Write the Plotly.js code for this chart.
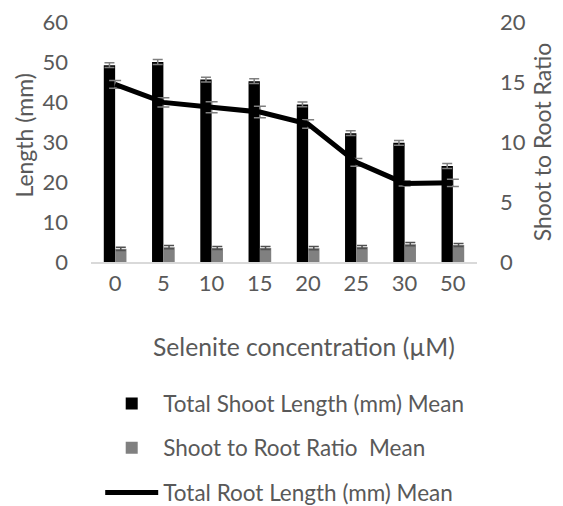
<!DOCTYPE html>
<html><head><meta charset="utf-8">
<script src="https://cdn.plot.ly/plotly-3.0.1.min.js"></script>
<style>body{margin:0;padding:0;background:#fff}#chart{width:563px;height:506px}</style>
</head><body><div id="chart"></div>
<script>
const categories = ["0","5","10","15","20","25","30","50"];
const shootLength = [49.2, 50.0, 45.6, 45.2, 39.4, 32.2, 29.8, 24.0];
const shootLengthErr = [0.6, 0.6, 0.6, 0.6, 0.6, 0.6, 0.6, 0.6];
const ratio = [3.3, 3.7, 3.5, 3.5, 3.45, 3.75, 4.45, 4.25];
const ratioErr = [0.4, 0.4, 0.4, 0.4, 0.4, 0.4, 0.4, 0.4];
const rootLength = [14.8, 13.3, 12.9, 12.5, 11.5, 8.3, 6.55, 6.6];
const rootLengthErr = [0.32, 0.39, 0.46, 0.48, 0.35, 0.32, 0.22, 0.3];
const xTitle = "Selenite concentration (µM)";
const yTitle = "Length (mm)";
const y2Title = "Shoot to Root Ratio";

const FONT = "Lato, 'Open Sans', sans-serif";
const TXT = "#595959";

const traces = [
  {type:"bar", x:categories, y:shootLength, name:"Total Shoot Length (mm) Mean",
   marker:{color:"#000000"}, yaxis:"y", legend:"legend",
   error_y:{type:"data", array:shootLengthErr, visible:true, color:"#7f7f7f", thickness:1.5, width:5}},
  {type:"bar", x:categories, y:ratio, name:"Shoot to Root Ratio  Mean",
   marker:{color:"#808080"}, yaxis:"y", legend:"legend2",
   error_y:{type:"data", array:ratioErr, visible:true, color:"#505050", thickness:1.5, width:5}},
  {type:"scatter", mode:"lines", x:categories, y:rootLength, name:"Total Root Length (mm) Mean",
   line:{color:"#000000", width:5}, yaxis:"y2", legend:"legend3",
   error_y:{type:"data", array:rootLengthErr, visible:true, color:"#7f7f7f", thickness:1.5, width:6}}
];

const legendBase = {orientation:"v", xref:"container", yref:"container", xanchor:"left", yanchor:"middle",
  bgcolor:"rgba(0,0,0,0)", font:{family:FONT, size:22.5, color:TXT}, itemwidth:53};

const layout = {
  width:563, height:506,
  margin:{l:91, r:86, t:22, b:244, autoexpand:false},
  paper_bgcolor:"#ffffff", plot_bgcolor:"#ffffff",
  font:{family:FONT, color:TXT, size:22},
  barmode:"group", bargap:0.53, bargroupgap:0,
  xaxis:{type:"category", showgrid:false, zeroline:false, showline:true, linecolor:"#d9d9d9", linewidth:1.5,
    ticks:"", tickfont:{size:22, color:TXT, family:FONT}, ticklabelstandoff:1},
  yaxis:{range:[0,60], dtick:10, showgrid:false, zeroline:false, showline:false, ticks:"",
    tickfont:{size:22, color:TXT, family:FONT}, ticklabelstandoff:22},
  yaxis2:{range:[0,20], dtick:5, overlaying:"y", side:"right", showgrid:false, zeroline:false, showline:false, ticks:"",
    tickfont:{size:22, color:TXT, family:FONT}, ticklabelstandoff:22,
    title:{text:y2Title, font:{size:23, color:TXT, family:FONT}}},
  annotations:[
    {text:xTitle, xref:"paper", yref:"paper", x:0.552, y:-0.354, xanchor:"center", yanchor:"middle",
     showarrow:false, font:{size:24.7, color:TXT, family:FONT}},
    {text:yTitle, xref:"paper", yref:"paper", x:-0.176, y:0.527, xanchor:"center", yanchor:"middle",
     textangle:-90, showarrow:false, font:{size:23, color:TXT, family:FONT}}
  ],
  showlegend:true,
  legend:Object.assign({}, legendBase, {x:0.178, y:0.2016}),
  legend2:Object.assign({}, legendBase, {x:0.178, y:0.1146}),
  legend3:Object.assign({}, legendBase, {x:0.178, y:0.0257})
};

Plotly.newPlot("chart", traces, layout, {displayModeBar:false, responsive:false});
</script></body></html>
